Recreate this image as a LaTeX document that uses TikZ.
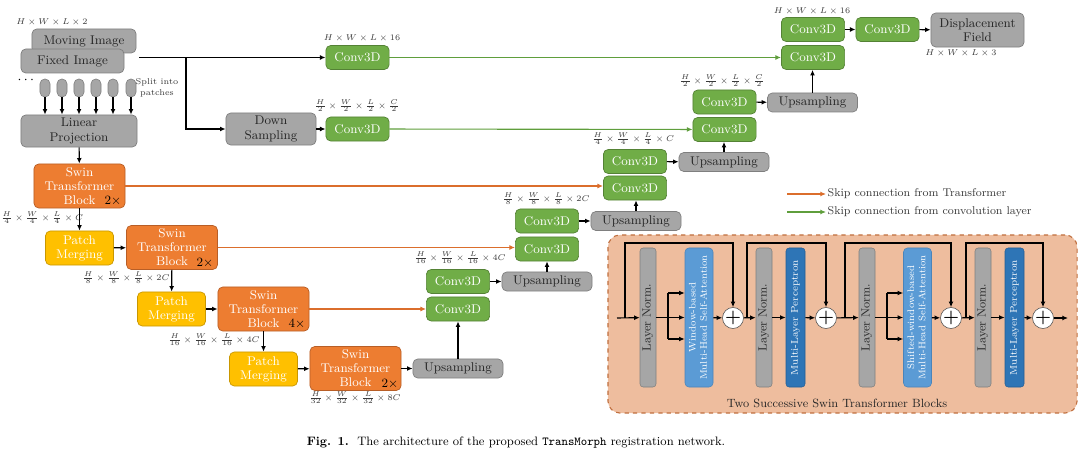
\documentclass[tikz,border=0pt]{standalone}
\usepackage{amsmath}
\usepackage{graphicx}
\usepackage{tikz}
\usetikzlibrary{positioning,arrows.meta}

\definecolor{convgreen}{HTML}{70AD47}
\definecolor{convedge}{HTML}{548235}
\definecolor{swinorange}{HTML}{ED7D31}
\definecolor{swinedge}{HTML}{B85E26}
\definecolor{mergeyellow}{HTML}{FFC000}
\definecolor{mergeedge}{HTML}{C99700}
\definecolor{boxgray}{HTML}{A6A6A6}
\definecolor{grayedge}{HTML}{7F7F7F}
\definecolor{textdark}{HTML}{262626}
\definecolor{textdim}{HTML}{3A3A3A}
\definecolor{attnblue}{HTML}{5B9BD5}
\definecolor{attnedge}{HTML}{4A84BA}
\definecolor{mlpblue}{HTML}{2E75B6}
\definecolor{mlpedge}{HTML}{245E93}
\definecolor{panelfill}{HTML}{EEBD9E}
\definecolor{paneledge}{HTML}{C07040}
\definecolor{skiporange}{HTML}{DB6E2C}
\definecolor{skipgreen}{HTML}{5F9E3C}

\newcommand{\vlabel}[1]{\rotatebox{90}{\begin{tabular}{@{}c@{}}#1\end{tabular}}}

\begin{document}
\begin{tikzpicture}[
    x=0.025cm, y=-0.025cm,
    >={Latex[length=4pt,width=3.5pt]},
    box/.style={draw, rounded corners=1.2mm, line width=0.5pt, inner sep=0pt, align=center, font=\fontsize{9}{10}\selectfont},
    conv/.style={box, draw=convedge, fill=convgreen, text=white, minimum width=1.58cm, minimum height=0.6cm},
    swin/.style={box, draw=swinedge, fill=swinorange, text=white, minimum width=2.275cm, minimum height=1.1cm},
    merge/.style={box, draw=mergeedge, fill=mergeyellow, text=white, minimum width=1.7cm, minimum height=0.85cm},
    graybox/.style={box, draw=grayedge, fill=boxgray, text=textdark},
    upsamp/.style={graybox, minimum width=2.25cm, minimum height=0.475cm},
    patch/.style={draw=grayedge, fill=boxgray, rounded corners=1.2mm, minimum width=0.25cm, minimum height=0.45cm, inner sep=0pt},
    dim/.style={font=\fontsize{6}{7}\selectfont, text=textdim, inner sep=0pt},
    rep/.style={font=\fontsize{9}{10}\selectfont, inner sep=0pt},
    flow/.style={->, line width=0.8pt},
    skipT/.style={->, draw=skiporange, line width=0.8pt},
    skipC/.style={->, draw=skipgreen, line width=0.8pt},
    panel/.style={draw=paneledge, dashed, fill=panelfill, rounded corners=3mm, line width=0.8pt, minimum width=11.725cm, minimum height=4.45cm},
    lnorm/.style={draw=grayedge, fill=boxgray, rounded corners=0.8mm, minimum width=0.4cm, minimum height=3.475cm, inner sep=0pt, text=textdark, font=\fontsize{8.5}{9}\selectfont},
    attn/.style={draw=attnedge, fill=attnblue, rounded corners=1mm, minimum width=0.7cm, minimum height=3.475cm, inner sep=0pt, text=white, font=\fontsize{6.8}{8}\selectfont},
    mlp/.style={draw=mlpedge, fill=mlpblue, rounded corners=0.8mm, minimum width=0.475cm, minimum height=3.475cm, inner sep=0pt, text=white, font=\fontsize{7}{8}\selectfont},
    add/.style={circle, draw=black!70, fill=white, minimum size=0.5cm, inner sep=0pt, font=\fontsize{13}{13}\bfseries}
]
  \useasboundingbox (0,0) rectangle (1085,458);

  % input
  \node[dim] (dimin) at (52,22) {$H\times W\times L\times 2$};
  \node[graybox, minimum width=2.6cm, minimum height=0.6cm] (moving) at (84,41) {Moving Image};
  \node[graybox, minimum width=2.575cm, minimum height=0.6cm] (fixed) at (72.5,61) {Fixed Image};
  \node[font=\fontsize{10}{10}\selectfont\bfseries] (dots) at (27,80) {$\cdots$};
  \node[graybox, minimum width=2.9cm, minimum height=0.8cm] (linproj) at (79,131) {Linear\\Projection};
  \foreach \i/\px in {1/45,2/62,3/79,4/96,5/113,6/131} {
    \node[patch] (p\i) at (\px,88) {};
    \draw[flow] (p\i) -- (p\i |- linproj.north);
  }
  \node[dim, align=center, font=\fontsize{6}{7.5}\selectfont] (split) at (157,88) {Split into\\patches};

  % encoder
  \node[swin] (swin1) at (79.5,186) {Swin\\Transformer\\Block};
  \node[rep] (k1) at (113,201) {2$\times$};
  \node[dim] (dim1) at (42,218) {$\tfrac{H}{4}\times\tfrac{W}{4}\times\tfrac{L}{4}\times C$};
  \node[merge] (pm1) at (79.5,248) {Patch\\Merging};
  \node[swin] (swin2) at (172,247.5) {Swin\\Transformer\\Block};
  \node[rep] (k2) at (205,263) {2$\times$};
  \node[dim] (dim2) at (126,278) {$\tfrac{H}{8}\times\tfrac{W}{8}\times\tfrac{L}{8}\times 2C$};
  \node[merge] (pm2) at (171.5,309) {Patch\\Merging};
  \node[swin] (swin3) at (263.5,309) {Swin\\Transformer\\Block};
  \node[rep] (k3) at (297,324) {4$\times$};
  \node[dim] (dim3) at (214,340) {$\tfrac{H}{16}\times\tfrac{W}{16}\times\tfrac{L}{16}\times 4C$};
  \node[merge] (pm3) at (263.5,369) {Patch\\Merging};
  \node[swin] (swin4) at (355.5,368.5) {Swin\\Transformer\\Block};
  \node[rep] (k4) at (390,384) {2$\times$};
  \node[dim] (dim4) at (355,398) {$\tfrac{H}{32}\times\tfrac{W}{32}\times\tfrac{L}{32}\times 8C$};

  \draw[flow] (linproj) -- (swin1);
  \draw[flow] (swin1) -- (pm1);
  \draw[flow] (pm1) -- (swin2);
  \draw[flow] (swin2) -- (pm2);
  \draw[flow] (pm2) -- (swin3);
  \draw[flow] (swin3) -- (pm3);
  \draw[flow] (pm3) -- (swin4);

  % conv branch
  \node[conv] (conv0) at (357.5,57.5) {Conv3D};
  \node[dim] (dim0) at (362,38) {$H\times W\times L\times 16$};
  \node[graybox, minimum width=2.25cm, minimum height=0.8cm] (down) at (271,129) {Down\\Sampling};
  \node[conv] (convd) at (357.5,129) {Conv3D};
  \node[dim] (dimd) at (357,106) {$\tfrac{H}{2}\times\tfrac{W}{2}\times\tfrac{L}{2}\times\tfrac{C}{2}$};
  \coordinate (fxo) at (139,57.5);
  \coordinate (brk) at (186,57.5);
  \draw[flow] (fxo) -- (conv0);
  \draw[flow] (brk) |- (down);
  \draw[flow] (down) -- (convd);

  % decoder
  \node[upsamp] (upA) at (458,368.5) {Upsampling};
  \node[conv] (dec16a) at (458,281.5) {Conv3D};
  \node[conv] (dec16b) at (458,309) {Conv3D};
  \node[dim] (dim16) at (460,258) {$\tfrac{H}{16}\times\tfrac{W}{16}\times\tfrac{L}{16}\times 4C$};
  \node[upsamp] (upB) at (547,281.5) {Upsampling};
  \node[conv] (dec8a) at (547,221) {Conv3D};
  \node[conv] (dec8b) at (547,249) {Conv3D};
  \node[dim] (dim8) at (546,199) {$\tfrac{H}{8}\times\tfrac{W}{8}\times\tfrac{L}{8}\times 2C$};
  \node[upsamp] (upC) at (636,221) {Upsampling};
  \node[conv] (dec4a) at (635,161.5) {Conv3D};
  \node[conv] (dec4b) at (635,188) {Conv3D};
  \node[dim] (dim4d) at (633,139) {$\tfrac{H}{4}\times\tfrac{W}{4}\times\tfrac{L}{4}\times C$};
  \node[upsamp] (upD) at (724,162) {Upsampling};
  \node[conv] (dec2a) at (724.5,102) {Conv3D};
  \node[conv] (dec2b) at (724.5,129.5) {Conv3D};
  \node[dim] (dim2d) at (722,81) {$\tfrac{H}{2}\times\tfrac{W}{2}\times\tfrac{L}{2}\times\tfrac{C}{2}$};
  \node[upsamp] (upE) at (812.5,102.5) {Upsampling};
  \node[conv] (dec1a) at (813,29.5) {Conv3D};
  \node[conv] (dec1b) at (813,57.5) {Conv3D};
  \node[dim] (dim1d) at (812,11) {$H\times W\times L\times 16$};
  \node[conv] (convout) at (887.5,29.5) {Conv3D};
  \node[graybox, minimum width=2.325cm, minimum height=0.85cm] (disp) at (977.5,30) {Displacement\\Field};
  \node[dim] (dimout) at (961,53) {$H\times W\times L\times 3$};

  \draw[flow] (swin4) -- (upA);
  \draw[flow] (upA) -- (dec16b);
  \draw[flow] (dec16a) -- (upB);
  \draw[flow] (upB) -- (upB |- dec8b.south);
  \draw[flow] (dec8a) -- (upC);
  \draw[flow] (upC) -- (upC |- dec4b.south);
  \draw[flow] (dec4a) -- (upD);
  \draw[flow] (upD) -- (upD |- dec2b.south);
  \draw[flow] (dec2a) -- (upE);
  \draw[flow] (upE) -- (upE |- dec1b.south);
  \draw[flow] (dec1a) -- (convout);
  \draw[flow] (convout) -- (disp);

  % skip connections
  \draw[skipT] (swin1.east) -- (swin1.east -| dec4b.west);
  \draw[skipT] (swin2.east) -- (swin2.east -| dec8b.west);
  \draw[skipT] (swin3.east) -- (swin3.east -| dec16b.west);
  \draw[skipC] (conv0) -- (dec1b);
  \draw[skipC] (convd) -- (dec2b);

  % legend
  \node[anchor=west, font=\fontsize{8}{9}\selectfont, text=textdim, inner sep=1pt] (lgT) at (826,194) {Skip connection from Transformer};
  \node[anchor=west, font=\fontsize{8}{9}\selectfont, text=textdim, inner sep=1pt] (lgC) at (826,212) {Skip connection from convolution layer};
  \coordinate (lgTs) at (787,194);
  \coordinate (lgCs) at (787,212);
  \draw[skipT] (lgTs) -- (lgT);
  \draw[skipC] (lgCs) -- (lgC);

  % two successive swin blocks
  \node[panel] (panel) at (842.5,324) {};
  \node[font=\fontsize{8.5}{10}\selectfont, text=textdark] (ptitle) at (837,403) {Two Successive Swin Transformer Blocks};
  \node[lnorm] (ln1) at (648,317.5) {\vlabel{Layer Norm.}};
  \node[attn] (att1) at (699,317.5) {\vlabel{Window-based\\Multi-Head Self-Attention}};
  \node[add] (pl1) at (733,318) {+};
  \node[lnorm] (ln2) at (764,317.5) {\vlabel{Layer Norm.}};
  \node[mlp] (mlp1) at (795.5,317.5) {\vlabel{Multi-Layer Perceptron}};
  \node[add] (pl2) at (826,318) {+};
  \node[lnorm] (ln3) at (867,317.5) {\vlabel{Layer Norm.}};
  \node[attn] (att2) at (917.5,317.5) {\vlabel{Shifted-window-based\\Multi-Head Self-Attention}};
  \node[add] (pl3) at (951,318) {+};
  \node[lnorm] (ln4) at (983,317.5) {\vlabel{Layer Norm.}};
  \node[mlp] (mlp2) at (1014.5,317.5) {\vlabel{Multi-Layer Perceptron}};
  \node[add] (pl4) at (1043,318) {+};
  \coordinate (bin) at (617,318);
  \coordinate (bout) at (1068,318);

  \draw[flow] (bin) -- (ln1);
  \draw[flow] (ln1) -- (att1);
  \draw[flow] (att1) -- (pl1);
  \draw[flow] (pl1) -- (ln2);
  \draw[flow] (ln2) -- (mlp1);
  \draw[flow] (mlp1) -- (pl2);
  \draw[flow] (pl2) -- (ln3);
  \draw[flow] (ln3) -- (att2);
  \draw[flow] (att2) -- (pl3);
  \draw[flow] (pl3) -- (ln4);
  \draw[flow] (ln4) -- (mlp2);
  \draw[flow] (mlp2) -- (pl4);
  \draw[flow] (pl4) -- (bout);

  % branches into attention
  \foreach \bx/\att in {668/att1, 887/att2} {
    \coordinate (bt) at (\bx,293);
    \coordinate (bb) at (\bx,339);
    \draw[line width=0.8pt] (bt) -- (bb);
    \draw[flow] (bt) -- (bt -| \att.west);
    \draw[flow] (bb) -- (bb -| \att.west);
  }

  % residual paths
  \foreach \sx/\pl in {625/pl1, 747/pl2, 845/pl3, 966/pl4} {
    \coordinate (rs) at (\sx,318);
    \draw[flow] (rs) -- ++(0,-75) -| (\pl.north);
  }

  % caption
  \node[font=\fontsize{8.7}{10}\selectfont] (caption) at (516,443) {\textbf{Fig. 1.}\ \ The architecture of the proposed \texttt{TransMorph} registration network.};
\end{tikzpicture}
\end{document}
